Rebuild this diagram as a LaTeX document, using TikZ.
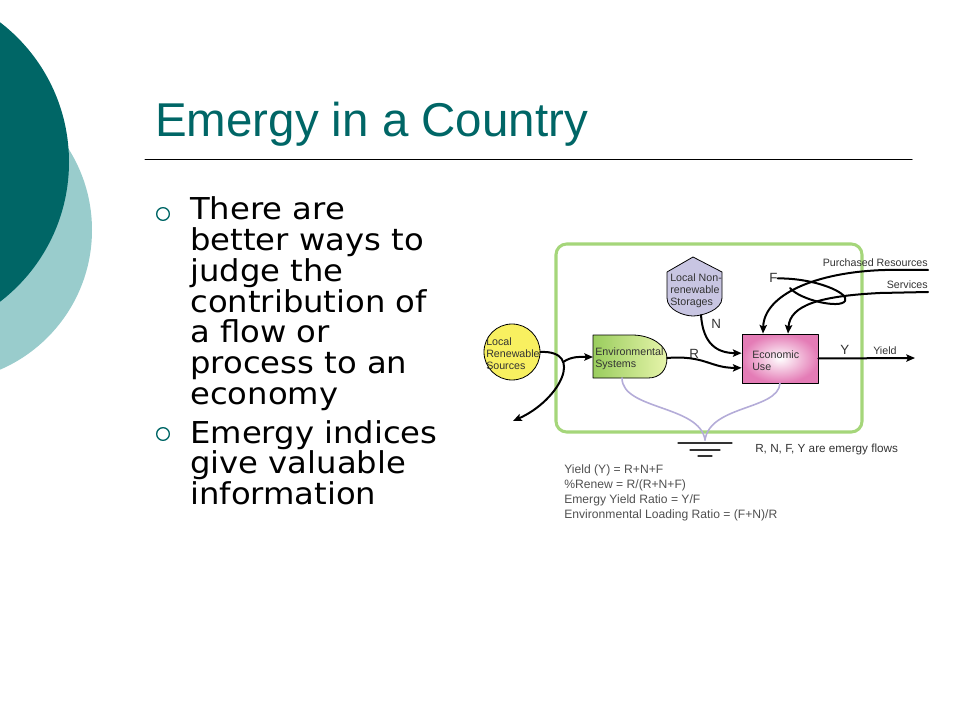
\documentclass[tikz,border=0pt]{standalone}
\usepackage{fontspec}
\setmainfont{Liberation Sans}
\newfontfamily\bulletfont[FakeStretch=1.07]{DejaVu Sans}
\usetikzlibrary{arrows.meta}
\definecolor{darkteal}{HTML}{006666}
\definecolor{lightteal}{HTML}{99CCCC}
\definecolor{boundgreen}{HTML}{A5D67A}
\definecolor{srcyellow}{HTML}{F8F060}
\definecolor{envlight}{HTML}{E6F4AA}
\definecolor{envdark}{HTML}{9ACD5E}
\definecolor{storlav}{HTML}{C8C5E2}
\definecolor{ecopink}{HTML}{E47CB6}
\definecolor{sinklav}{HTML}{B4ACD8}
\definecolor{diagtext}{HTML}{333333}
\definecolor{eqgray}{HTML}{505050}
\tikzset{
  flow/.style={line width=1.5pt,->},
  sinkline/.style={draw=sinklav,line width=1.2pt},
  lbl/.style={font=\fontsize{8}{9}\selectfont,text=diagtext,inner sep=0pt,align=left},
  sym/.style={font=\fontsize{10}{12}\selectfont,text=diagtext,inner sep=0pt,anchor=base west},
  eqn/.style={font=\fontsize{9.1}{10}\selectfont,text=eqgray,inner sep=0pt,anchor=base west},
  bultext/.style={font=\bulletfont\fontsize{22.6}{23}\selectfont,inner sep=0pt,anchor=base west},
  buldot/.style={circle,draw=darkteal,line width=1pt,minimum size=9.5pt,inner sep=0pt}
}
\begin{document}
\begin{tikzpicture}[x=0.75pt,y=-0.75pt,line join=round,line cap=round,>={Stealth[length=6.5pt,width=5.5pt,inset=1.2pt]}]
\useasboundingbox(0,0)rectangle(960,720);
% background circles
\begin{scope}
\clip(0,0)rectangle(960,720);
\fill[lightteal](-60,230)circle(114pt);
\fill[darkteal](-107,162)circle(132pt);
\end{scope}
% title and bullets
\node[anchor=base west,inner sep=0pt,text=darkteal,font=\fontsize{35.6}{40}\selectfont](title)at(155,137){Emergy in a Country};
\draw[line width=0.75pt](145,160)--(912,160);
\node[buldot](dot1)at(163,214){};
\node[buldot](dot2)at(163,434){};
\foreach \t[count=\i] in{There are,better ways to,judge the,contribution of,a flow or,process to an,economy}
\node[bultext](one\i)at(190,{220+30.7*(\i-1)}){\t};
\foreach \t[count=\i] in{Emergy indices,give valuable,information}
\node[bultext](two\i)at(190,{443+30.7*(\i-1)}){\t};
% system boundary
\draw[boundgreen,line width=2.3pt,rounded corners=8pt](556,244)rectangle(862,432);
% components
\node[circle,draw,line width=0.6pt,fill=srcyellow,minimum size=42pt,inner sep=0pt](lrs)at(512,352){};
\node[lbl,anchor=west](lrstext)at(486,354){Local\\Renewable\\Sources};
\draw[line width=0.6pt,left color=envdark,right color=envlight](593,335)--(632,335)..controls(652,335)and(667,346)..(667,358)
  ..controls(667,370)and(660,378)..(648,378)--(593,378)--cycle;
\node[lbl,anchor=west](envtext)at(595,359){Environmental\\Systems};
\draw[line width=0.6pt,fill=storlav](667,272)--(693,257)--(722,272)--(722,298)..controls(722,310)and(702,316)..(693,316)
  ..controls(684,316)and(667,310)..(667,298)--cycle;
\node[lbl,anchor=west](stortext)at(670,291){Local Non-\\renewable\\Storages};
\node[draw,line width=0.6pt,inner color=white,outer color=ecopink,minimum width=57pt,minimum height=36.75pt,inner sep=0pt](eco)at(780,358.5){};
\node[lbl,anchor=west](ecotext)at(752,361){Economic\\Use};
% labels
\node[sym](rlbl)at(689,358){R};
\node[sym](nlbl)at(711,329){N};
\node[sym](flbl)at(769,283){F};
\node[sym](ylbl)at(840,354){Y};
\node[lbl,anchor=base west](yield)at(873,354){Yield};
\node[lbl,anchor=base east](purch)at(928,267){Purchased Resources};
\node[lbl,anchor=base east](serv)at(928,288){Services};
\node[lbl,anchor=base west,font=\fontsize{8.8}{10}\selectfont](note)at(755,452){R, N, F, Y are emergy flows};
\foreach \t[count=\i] in{Yield (Y) = R+N+F,\%Renew = R/(R+N+F),Emergy Yield Ratio = Y/F,Environmental Loading Ratio = (F+N)/R}
\node[eqn](eq\i)at(564,{473+15*(\i-1)}){\t};
% flows
\coordinate(envin)at(593,357);
\coordinate(envout)at(667,358);
\coordinate(envbot)at(622,378);
\coordinate(storout)at(701,315);
\coordinate(sinkout)at(513,421);
\coordinate(prin)at(928,270);
\coordinate(svin)at(928,292);
\coordinate(yout)at(915,358);
\coordinate(gnd)at(705,440);
\draw[flow](lrs.east)..controls(585,350)and(560,400)..(sinkout)coordinate[pos=.3](split);
\draw[flow](split)..controls(572,356)and(580,357)..(envin);
\draw[flow](envout)..controls(705,355)and(710,368)..([yshift=-7pt]eco.west);
\draw[flow](storout)..controls(703,345)and(718,353)..([yshift=4pt]eco.west);
\draw[flow](prin)--(885,270)..controls(815,272)and(764,295)..([xshift=-12.75pt]eco.north);
\draw[flow](svin)--(880,293)..controls(820,296)and(790,305)..([xshift=6pt]eco.north);
\draw[line width=1.5pt](flbl.east)..controls(815,278)and(850,293)..(845,301)..controls(840,309)and(800,300)..(790,288);
\draw[flow](eco.east)--(yout);
% heat sink
\draw[sinkline](envbot)..controls(622,410)and(700,405)..(gnd);
\draw[sinkline](eco.south)..controls(778,410)and(710,405)..(gnd);
\draw[line width=0.9pt,diagtext](gnd)++(-27,3)--++(54,0)++(-42,7)--++(30,0)++(-22,6)--++(14,0);
\end{tikzpicture}
\end{document}
